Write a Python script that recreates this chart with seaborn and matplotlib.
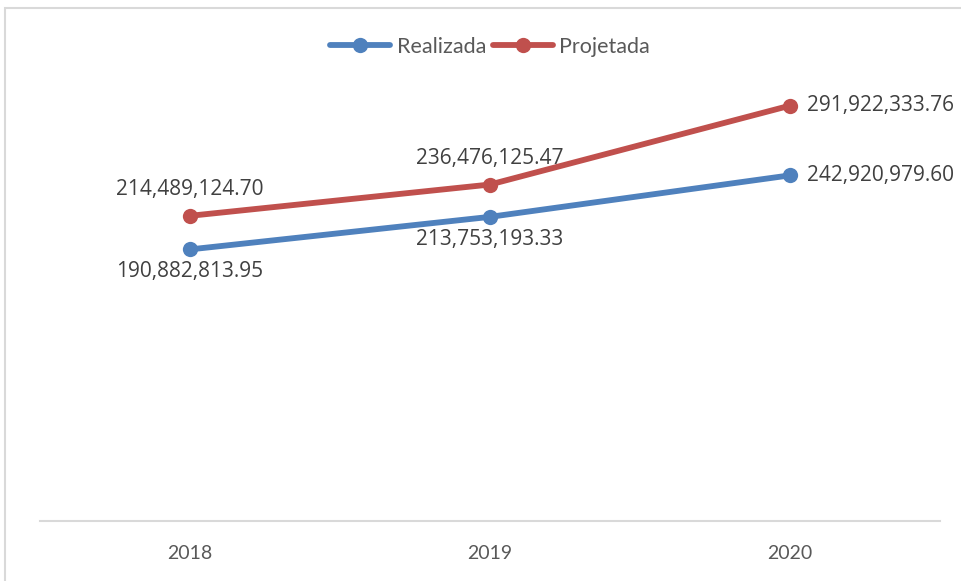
import pandas as pd
import matplotlib.pyplot as plt
import seaborn as sns
from matplotlib.patches import Rectangle
from matplotlib.lines import Line2D

# Values
years = ['2018', '2019', '2020']
realizada = [190882813.95, 213753193.33, 242920979.60]
projetada = [214489124.70, 236476125.47, 291922333.76]

series_names = ['Realizada', 'Projetada']
colors = {'Realizada': '#4F81BD', 'Projetada': '#C0504D'}

df = pd.DataFrame({
    'ano': years * 2,
    'valor': realizada + projetada,
    'serie': ['Realizada'] * 3 + ['Projetada'] * 3,
})
df['pos'] = df.groupby('serie').cumcount()

sns.set_style('white')
plt.rcParams['font.family'] = ['Open Sans', 'DejaVu Sans']

fig = plt.figure(figsize=(9.62, 5.81), dpi=100)
ax = fig.add_axes([40 / 962, 60 / 581, 900 / 962, 498 / 581])

sns.lineplot(data=df, x='pos', y='valor', hue='serie', palette=colors,
             hue_order=series_names, marker='o', markersize=11,
             markeredgewidth=0, linewidth=4.2, legend=False, ax=ax)

ax.set_xlim(-0.5, 2.5)
ax.set_ylim(0, 350e6)
ax.set_xticks(range(len(years)))
ax.set_xticklabels(years, fontfamily='Lato', fontsize=14, color='#595959')
ax.set_yticks([])
ax.set_xlabel('')
ax.set_ylabel('')
ax.tick_params(axis='x', length=0, pad=17)
for s in ['top', 'right', 'left']:
    ax.spines[s].set_visible(False)
ax.spines['bottom'].set_color('#d9d9d9')
ax.spines['bottom'].set_linewidth(1.5)

# data labels
def fmt(v):
    return f'{v:,.2f}'

label_kw = dict(textcoords='offset points', fontsize=15, color='#404040')
for i, v in enumerate(realizada):
    if i < 2:
        ax.annotate(fmt(v), (i, v), xytext=(0, -16), ha='center', va='center', **label_kw)
    else:
        ax.annotate(fmt(v), (i, v), xytext=(12, 0), ha='left', va='center', **label_kw)
for i, v in enumerate(projetada):
    if i < 2:
        ax.annotate(fmt(v), (i, v), xytext=(0, 19), ha='center', va='center', **label_kw)
    else:
        ax.annotate(fmt(v), (i, v), xytext=(12, 0), ha='left', va='center', **label_kw)

handles = [Line2D([0], [0], color=colors[n], lw=4.2, marker='o', markersize=11,
                  markeredgewidth=0) for n in series_names]
ax.legend(handles, series_names, loc='center', bbox_to_anchor=(450 / 900, (521 - 47) / 498),
          ncol=2, frameon=False, handlelength=2.8, handletextpad=0.3, columnspacing=0.3,
          prop={'family': 'Lato', 'size': 15.5}, labelcolor='#595959')

# chart area border (top and left edges visible)
fig.add_artist(Rectangle((5 / 962, -0.1), 1.2, (581 - 8) / 581 + 0.1,
                         transform=fig.transFigure, fill=False,
                         edgecolor='#d9d9d9', linewidth=1.5))

fig.savefig('out.png', dpi=100)
